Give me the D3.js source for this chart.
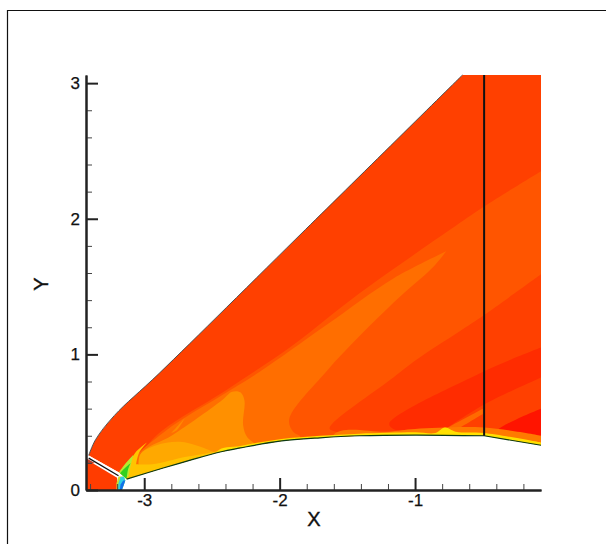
<!DOCTYPE html>
<html>
<head>
<meta charset="utf-8">
<script src="https://cdn.jsdelivr.net/npm/d3@7"></script>
<style>
html, body { margin: 0; padding: 0; background: #fff; }
svg { display: block; }
text { font-family: "Liberation Sans", Arial, sans-serif; fill: #111; stroke: #111; stroke-width: 0.25px; }
</style>
</head>
<body>
<div id="chart"></div>
<script>
// axis ticks
const xMajor = [-3, -2, -1];
const xMinor = [-3.4, -3.2, -2.8, -2.6, -2.4, -2.2, -1.8, -1.6, -1.4, -1.2, -0.8, -0.6, -0.4, -0.2];
const yMajor = [0, 1, 2, 3];
const yMinor = [0.2, 0.4, 0.6, 0.8, 1.2, 1.4, 1.6, 1.8, 2.2, 2.4, 2.6, 2.8];

// outer boundary and wall in X/Y units
const shock = [[-3.41, 0.255], [-3.36, 0.37], [-3.22, 0.55], [-2.89, 0.86], [-1.81, 1.92], [-0.65, 3.06]];
const bodyFront = [[-3.13, 0.08], [-2.86, 0.162], [-2.66, 0.22], [-2.44, 0.28], [-2.29, 0.31], [-2, 0.36],
                   [-1.70, 0.385], [-1.41, 0.40], [-1, 0.405], [-0.49, 0.40]];
const bodyBack = [[-0.49, 0.40], [-0.07, 0.33]];
const station = [[-0.49, 3.06], [-0.49, 0.40]];
const gapLine = [[-3.41, 0.235], [-3.19, 0.105]];

// contour bands, a doubled point keeps a sharp corner
const bandA = [[-3.11, 0.15], [-3.03, 0.26], [-2.89, 0.42], [-2.39, 0.74], [-1.90, 1.07], [-1.41, 1.45], [-0.74, 1.92],
               [-0.49, 2.09], [-0.07, 2.35], [-0.07, 2.35], [-0.07, 1.59], [-0.07, 1.59], [-0.49, 1.29], [-0.67, 1.17], [-0.99, 0.96], [-1.16, 0.83],
               [-1.61, 0.49], [-1.63, 0.45], [-1.41, 0.40], [-1.41, 0.40], [-1.41, 0.2], [-1.41, 0.2], [-3.11, 0], [-3.11, 0]];
const bandB = [[-3.09, 0.2], [-2.85, 0.43], [-2.39, 0.72], [-2.15, 0.87], [-1.65, 1.22], [-1.16, 1.56], [-0.77, 1.76], [-0.77, 1.76],
               [-0.87, 1.64], [-1.16, 1.38], [-1.65, 0.88], [-1.93, 0.52], [-1.90, 0.43], [-1.85, 0.40], [-1.85, 0.40], [-1.85, 0.2], [-1.85, 0.2], [-3.09, 0], [-3.09, 0]];
const streakA = [[-2.70, 0.53], [-2.70, 0.53], [-2.80, 0.42], [-2.80, 0.42], [-2.76, 0.44]];
const bandC = [[-3.03, 0.26], [-2.79, 0.405], [-2.44, 0.65], [-2.35, 0.725], [-2.29, 0.72], [-2.26, 0.66], [-2.27, 0.48],
               [-2.24, 0.39], [-2.18, 0.34], [-2.18, 0.34], [-2.18, 0.2], [-2.18, 0.2], [-3.03, 0.05], [-3.03, 0.05]];
const bandD = [[-3.03, 0.26], [-2.91, 0.33], [-2.74, 0.355], [-2.59, 0.32], [-2.49, 0.28], [-2.49, 0.28], [-2.49, 0.1], [-2.49, 0.1], [-3.03, 0.1], [-3.03, 0.1]];
const bandE = [[-3.13, 0.13], [-3.07, 0.27], [-2.98, 0.35], [-2.98, 0.35], [-3.04, 0.27], [-3.06, 0.19], [-3.06, 0.19], [-2.94, 0.19], [-2.69, 0.245], [-2.54, 0.27],
               [-2.46, 0.285], [-2.46, 0.285], [-2.46, 0.1], [-2.46, 0.1], [-3.13, 0], [-3.13, 0]];
const deepA = [[-1.19, 0.49], [-0.50, 0.87], [-0.07, 1.05], [-0.07, 1.05], [-0.07, 0.83], [-0.07, 0.83], [-0.49, 0.63], [-0.82, 0.42], [-0.82, 0.42], [-1.16, 0.45]];
const deepB = [[-0.39, 0.44], [-0.07, 0.60], [-0.07, 0.60], [-0.07, 0.37], [-0.07, 0.37], [-0.39, 0.40]];
const streakB = [[-0.76, 0.46], [-0.76, 0.46], [-0.50, 0.60], [-0.50, 0.60], [-0.50, 0.56], [-0.50, 0.56], [-0.70, 0.44], [-0.70, 0.44]];
const wallOrange = [[-1.6, 0.41], [-1.2, 0.43], [-1.0, 0.45], [-0.49, 0.46], [-0.07, 0.40], [-0.07, 0.40], [-0.07, 0], [-0.07, 0], [-1.6, 0], [-1.6, 0]];
const wallYellow = [[-2.46, 0.285], [-2.29, 0.325], [-2, 0.375], [-1.7, 0.40], [-1.41, 0.415], [-1, 0.425], [-0.85, 0.42], [-0.78, 0.46], [-0.7, 0.43],
                    [-0.49, 0.42], [-0.07, 0.35], [-0.07, 0.35], [-0.07, 0], [-0.07, 0], [-2.46, 0], [-2.46, 0]];
const noseLime = [[-3.2, 0.105], [-3.15, 0.18], [-3.08, 0.26], [-3.08, 0.26], [-3.10, 0.18], [-3.115, 0.10], [-3.115, 0.10], [-3.2, 0.08], [-3.2, 0.08]];
const noseGreen = [[-3.19, 0.10], [-3.15, 0.155], [-3.10, 0.20], [-3.10, 0.20], [-3.12, 0.15], [-3.13, 0.08], [-3.13, 0.08], [-3.16, 0.07], [-3.16, 0.07]];

// piece under the gap
const lowerBlock = [[-3.43, 0.20], [-3.41, 0.215], [-3.20, 0.09], [-3.20, 0], [-3.43, 0]];
const lowerDark = [[-3.43, 0.236], [-3.365, 0.20], [-3.43, 0.19]];
const noseYellow = [[-3.205, 0], [-3.205, 0.05], [-3.19, 0.10], [-3.15, 0.10], [-3.14, 0.07], [-3.15, 0.04], [-3.165, 0]];
const noseCyan = [[-3.195, 0], [-3.19, 0.05], [-3.175, 0.095], [-3.15, 0.10], [-3.14, 0.07], [-3.15, 0.04], [-3.165, 0]];
const noseBlue = [[-3.18, 0], [-3.175, 0.04], [-3.155, 0.07], [-3.14, 0.07], [-3.15, 0.04], [-3.165, 0]];

const width = 606, height = 544;
const x = d3.scaleLinear().domain([-3.43, -0.07]).range([86, 541]);
const y = d3.scaleLinear().domain([0, 3.06]).range([490, 75]);
const line = d3.line().x(d => x(d[0])).y(d => y(d[1]));
const smooth = d3.line().x(d => x(d[0])).y(d => y(d[1])).curve(d3.curveCatmullRom.alpha(0.5));
const smoothClosed = d3.line().x(d => x(d[0])).y(d => y(d[1])).curve(d3.curveCatmullRomClosed.alpha(0.5));

const svg = d3.select('#chart').append('svg')
    .attr('width', width)
    .attr('height', height);

// frame
svg.append('path')
    .attr('d', `M7.5,${height}V10.5H${width}`)
    .attr('fill', 'none')
    .attr('stroke', '#111')
    .attr('stroke-width', 1.2);

// shock, top and right edge, then the wall back to the nose
const wallBack = bodyBack.slice().reverse();
const wallFront = bodyFront.slice().reverse();
const domainPath = smooth(shock)
    + 'L' + x(-0.07) + ',' + y(3.06)
    + smooth(wallBack).replace('M', 'L')
    + smooth(wallFront).replace('M', 'L')
    + 'L' + x(-3.18) + ',' + y(0.125) + 'Z';

svg.append('clipPath').attr('id', 'field')
    .append('path').attr('d', domainPath);

const field = svg.append('g').attr('clip-path', 'url(#field)');
field.append('path').attr('d', domainPath).attr('fill', '#ff4000');

const bands = [
    [bandA, '#ff5500'],
    [bandB, '#ff6e00'],
    [streakA, '#ff8a00'],
    [bandC, '#ff9000'],
    [bandD, '#ffa800'],
    [bandE, '#ffc400'],
    [deepA, '#ff2c00'],
    [deepB, '#ff1400'],
    [streakB, '#ff6a00'],
    [wallOrange, '#ff7a00'],
    [wallYellow, '#ffe000'],
    [noseLime, '#b8e830'],
    [noseGreen, '#30d020']
];
field.selectAll('path.band')
    .data(bands)
    .enter()
    .append('path')
    .attr('class', 'band')
    .attr('d', d => smoothClosed(d[0]))
    .attr('fill', d => d[1]);

const nose = [
    [lowerBlock, '#ff3c00'],
    [lowerDark, '#b8402c'],
    [noseYellow, '#c8e030'],
    [noseCyan, '#30d0e0'],
    [noseBlue, '#1070e8']
];
svg.append('g').selectAll('path')
    .data(nose)
    .enter()
    .append('path')
    .attr('d', d => line(d[0]) + 'Z')
    .attr('fill', d => d[1]);

// outlines
const strokes = [
    [smooth(shock), '#444', 0.9],
    [smooth(bodyFront), '#0c3a14', 1.2],
    [smooth(bodyBack), '#0c3a14', 1.2],
    [line(gapLine), '#111', 1.2],
    [line(station), '#111', 2]
];
svg.append('g').selectAll('path')
    .data(strokes)
    .enter()
    .append('path')
    .attr('d', d => d[0])
    .attr('fill', 'none')
    .attr('stroke', d => d[1])
    .attr('stroke-width', d => d[2]);

// axes
function styleAxis(g, color, w) {
    g.selectAll('.tick line').attr('stroke', color).attr('stroke-width', w);
    g.select('.domain').attr('stroke', '#222').attr('stroke-width', 2);
    g.selectAll('text').attr('font-size', 17);
}

const xAxisG = svg.append('g').attr('transform', `translate(0,${y(0)})`);
xAxisG.append('g')
    .call(d3.axisBottom(x).tickValues(xMinor).tickSizeInner(-6).tickSizeOuter(0).tickFormat(''))
    .call(styleAxis, '#444', 1);
xAxisG.append('g')
    .call(d3.axisBottom(x).tickValues(xMajor).tickSizeInner(-12).tickSizeOuter(0).tickPadding(4).tickFormat(d => String(d)))
    .call(styleAxis, '#222', 2);

const yAxisG = svg.append('g').attr('transform', `translate(${x(-3.43)},0)`);
yAxisG.append('g')
    .call(d3.axisLeft(y).tickValues(yMinor).tickSizeInner(-6).tickSizeOuter(0).tickFormat(''))
    .call(styleAxis, '#444', 1);
yAxisG.append('g')
    .call(d3.axisLeft(y).tickValues(yMajor).tickSizeInner(-12).tickSizeOuter(0).tickPadding(6).tickFormat(d3.format('d')))
    .call(styleAxis, '#222', 2);

svg.append('text')
    .attr('x', 314).attr('y', 526)
    .attr('text-anchor', 'middle')
    .attr('font-size', 20)
    .style('stroke-width', '0.4px')
    .text('X');

svg.append('text')
    .attr('transform', 'translate(48,284) rotate(-90)')
    .attr('text-anchor', 'middle')
    .attr('font-size', 20)
    .style('stroke-width', '0.4px')
    .text('Y');
</script>
</body>
</html>
